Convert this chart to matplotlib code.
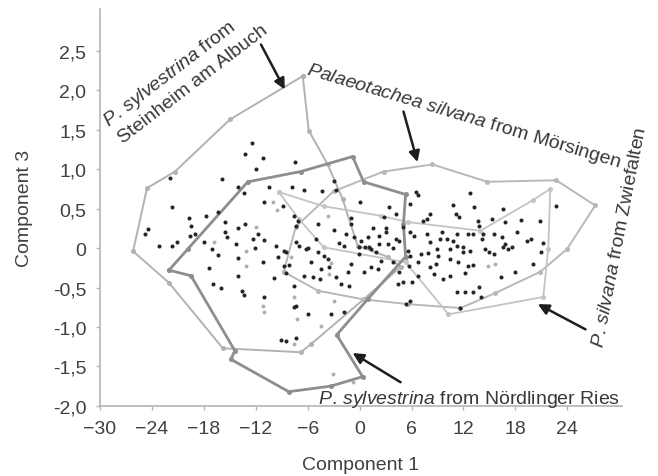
import matplotlib
matplotlib.use("Agg")
import matplotlib.pyplot as plt
import numpy as np

plt.rcParams['font.family'] = ['Liberation Sans', 'DejaVu Sans']
plt.rcParams['mathtext.fontset'] = 'custom'
plt.rcParams['mathtext.rm'] = 'Liberation Sans'
plt.rcParams['mathtext.it'] = 'Liberation Sans:italic'

# outlines of the four samples (component 1, component 3)
steinheim_x = [-6.57, -5.88, -3.69, -1.96, -0.23, 3.23, 4.73, 0.46, -5.65, -6.80,
               -15.80, -22.03, -26.18, -24.57, -21.34, -14.99]
steinheim_y = [2.18, 1.49, 1.06, 0.62, 0.03, -0.11, -0.24, -0.65, -1.22, -1.32,
               -1.27, -0.44, -0.04, 0.76, 0.97, 1.63]

noerdlingen_x = [-22.03, -19.84, -12.92, -6.80, -0.81, 0.46, 5.31, 5.07, 5.31, 0.92,
                 -2.65, 0.35, -3.34, -8.19, -14.88, -14.42, -19.49]
noerdlingen_y = [-0.28, -0.01, 0.84, 0.97, 1.16, 0.84, 0.68, 0.30, -0.11, -0.65,
                 -1.10, -1.63, -1.75, -1.82, -1.41, -1.30, -0.35]

moersingen_x = [-8.77, -7.38, -3.00, 2.77, 8.42, 14.76, 22.72, 27.22, 23.99, 20.88,
                15.69, 11.65, 5.54, 0.46, -4.84]
moersingen_y = [-0.30, 0.27, 0.72, 0.97, 1.06, 0.84, 0.86, 0.54, -0.01, -0.30,
                -0.57, -0.76, -0.71, -0.65, -0.54]

zwiefalten_x = [-9.34, -4.15, 2.42, 5.54, 13.96, 20.07, 22.03, 21.80, 21.22, 10.27,
                5.31, -4.15, -7.04]
zwiefalten_y = [0.71, 0.53, 0.41, 0.33, 0.22, 0.61, 0.75, -0.01, -0.62, -0.84,
                -0.18, 0.01, 0.37]

# individual shells
dots_x = [-12.46, -13.26, -11.19, -7.50, -12.0, -21.9, -15.9, -14.1, -10.5, -7.84,
          -13.4, -11.0, -8.88, -21.7, -16.4, -17.8, -19.7, -7.61, -7.15, -19.5,
          -15.6, -14.0, -13.3, -24.5, -24.8, -19.6, -19.0, -15.5, -15.3, -11.8,
          -12.3, -11.0, -7.38, -9.69, -21.1, -21.7, -23.2, -18.0, -17.1, -14.3,
          -12.1, -8.77, -16.4, -14.1, -11.2, -9.46, -8.77, -8.19, -8.54, -17.4,
          -14.1, -9.92, -17.0, -16.0, -13.6, -13.4, -11.0, -7.61, -7.38, -9.11,
          -8.54, -8.54, -7.04, -7.61, -6.0, -6.0, -5.65, -4.84, -5.42, -4.61,
          -3.58, -3.0, -6.46, -4.38, -2.77, 0.0, 3.34, 6.57, 6.80, 5.88,
          8.19, 7.84, 7.27, 10.8, 11.1, 2.77, 4.15, -1.04, -1.04, -4.84,
          1.50, 3.0, 3.0, -3.0, -1.61, -0.69, 0.12, 0.92, 2.19, 4.15,
          4.96, 5.88, 6.23, 7.84, 9.57, 10.15, 10.84, 11.3, -7.38, -6.23,
          -5.07, -4.15, -1.85, -0.12, -0.12, 1.27, 3.23, 5.54, 5.88, 8.19,
          9.0, 10.5, 12.8, 13.26, 16.6, 22.7, 11.5, 15.3, 16.8, 18.7,
          20.9, 13.7, 13.8, 11.3, 12.5, 13.1, 14.3, 15.5, 14.2, 16.5,
          18.2, 19.4, 21.2, 16.8, 16.6, 11.9, 12.8, 14.5, 14.9, 15.5,
          17.2, 21.0, 1.04, 2.19, 4.5, 7.04, 7.96, 9.11, 12.0, -3.69,
          -1.04, 1.27, 2.42, 3.81, 5.65, 6.80, 8.77, 10.4, 11.4, 12.5,
          13.1, 16.3, 18.0, 20.0, -2.77, -1.38, 0.46, 2.08, 5.07, 6.69,
          8.54, 9.69, 11.3, 12.2, 13.1, 13.8, 14.0, 5.88, 5.31, 11.65,
          12.2, -2.42, -6.46, -2.19, -1.27, -4.5, 4.5, 4.38, 6.11, 8.19,
          10.5, -7.38, -3.34, -1.85, 0.6, 1.9, 9.3, 17.6, 19.8, 3.9]
dots_y = [1.33, 1.19, 1.14, 1.09, 1.00, 0.89, 0.87, 0.78, 0.78, 0.78,
          0.70, 0.58, 0.53, 0.52, 0.46, 0.41, 0.38, 0.41, 0.34, 0.28,
          0.33, 0.25, 0.30, 0.24, 0.18, 0.15, 0.18, 0.20, 0.14, 0.18,
          0.11, 0.10, 0.28, 0.03, 0.08, 0.03, 0.03, 0.08, -0.01, 0.05,
          0.00, -0.04, -0.09, -0.13, -0.18, -0.11, -0.23, -0.22, -0.32, -0.25,
          -0.35, -0.38, -0.46, -0.51, -0.54, -0.59, -0.62, -0.75, -1.14, -1.16,
          -1.18, -0.05, 0.03, -0.48, -0.84, 0.00, -0.18, -0.05, -0.37, -0.39,
          -0.24, 0.85, 0.73, 0.72, 0.73, 0.59, 0.52, 0.71, 0.67, 0.56,
          0.43, 0.37, 0.34, 0.54, 0.43, 0.39, 0.43, 0.38, 0.30, 0.30,
          0.25, 0.25, 0.20, 0.23, 0.18, 0.14, 0.09, 0.14, 0.15, 0.11,
          0.27, 0.20, 0.15, 0.18, 0.20, 0.11, 0.09, 0.03, 0.08, -0.01,
          0.11, -0.10, 0.03, 0.01, -0.08, -0.01, 0.05, -0.04, -0.10, 0.08,
          -0.01, -0.01, 0.70, 0.52, 0.49, 0.53, 0.39, 0.37, 0.33, 0.35,
          0.34, 0.34, 0.28, 0.18, 0.18, 0.18, 0.18, 0.18, 0.11, 0.14,
          0.20, 0.09, 0.06, 0.05, 0.01, 0.01, -0.04, -0.01, -0.05, -0.08,
          -0.01, -0.05, 0.01, 0.05, 0.09, -0.08, -0.06, -0.10, -0.05, -0.14,
          -0.20, -0.24, -0.16, -0.18, -0.23, -0.18, -0.20, -0.14, -0.18, -0.23,
          -0.22, -0.37, -0.30, -0.20, -0.37, -0.30, -0.30, -0.27, -0.43, -0.35,
          -0.33, -0.39, -0.56, -0.56, -0.56, -0.49, -0.62, -0.67, -0.71, -0.76,
          -0.32, 0.06, -0.35, -0.46, -0.48, -0.27, -0.30, -0.46, -0.43, -0.24,
          -0.35, -0.73, -0.84, -0.81, 0.02, -0.05, 0.12, 0.02, 0.12, 0.00]

grey_x = [-10.0, -9.57, -12.0, -16.8, -13.1, -13.1, -11.2, -11.1, -7.61, -7.27,
          -7.61, -3.69, -3.34, -3.58, -3.0, -4.5, -3.11, 14.8, 15.7, -7.96, -0.8]
grey_y = [0.58, 0.48, 0.27, 0.08, -0.04, -0.23, -0.73, -0.81, -0.62, -0.90,
          -1.22, 0.41, -0.19, -0.33, -0.67, -0.99, -1.59, -0.23, -0.20, -0.11, -1.70]

xticks = [-30, -24, -18, -12, -6, 0, 6, 12, 18, 24]
yticks = [-2.0, -1.5, -1.0, -0.5, 0.0, 0.5, 1.0, 1.5, 2.0, 2.5]
ytick_labels = ['-2,0', '-1,5', '-1,0', '-0,5', '0', '0,5', '1,0', '1,5', '2,0', '2,5']

fig = plt.figure(figsize=(6.58, 4.77), dpi=100)
ax = fig.add_axes([0.152, 0.147, 0.793, 0.832])

def outline(xs, ys, col, lw):
    xs = list(xs) + [xs[0]]
    ys = list(ys) + [ys[0]]
    ax.plot(xs, ys, color=col, lw=lw, marker='o', ms=2.6, mfc=col, mec=col,
            solid_joinstyle='round', zorder=2)

outline(steinheim_x, steinheim_y, '#b2b2b2', 1.4)
outline(moersingen_x, moersingen_y, '#b8b8b8', 1.4)
outline(zwiefalten_x, zwiefalten_y, '#c4c4c4', 1.3)
outline(noerdlingen_x, noerdlingen_y, '#8e8e8e', 2.0)

ax.scatter(grey_x, grey_y, s=8, color='#b0b0b0', linewidths=0, zorder=3)
ax.scatter(dots_x, dots_y, s=8.5, color='#262626', linewidths=0, zorder=4)

ax.set_xlim(-30, 30.3)
ax.set_ylim(-2.0, 3.03)
ax.set_xticks(xticks)
ax.set_yticks(yticks)
ax.set_yticklabels(ytick_labels)
for s in ['top', 'right']:
    ax.spines[s].set_visible(False)
for s in ['left', 'bottom']:
    ax.spines[s].set_color('#b4b4b4')
    ax.spines[s].set_linewidth(1.2)
ax.tick_params(length=3, width=1, color='#b4b4b4', labelcolor='#404040',
               labelsize=14, pad=7)
ax.set_xlabel('Component 1', fontsize=14, color='#404040', labelpad=14)
ax.set_ylabel('Component 3', fontsize=14, color='#404040', labelpad=14)

tcol = '#383838'
ax.text(-21.6, 2.17, r'$\mathit{P.\,sylvestrina}$ from', fontsize=14, color=tcol,
        rotation=37.5, rotation_mode='anchor', ha='center', va='baseline')
ax.text(-18.9, 2.04, 'Steinheim am Albuch', fontsize=14, color=tcol,
        rotation=37.5, rotation_mode='anchor', ha='center', va='baseline')
ax.text(11.9, 1.62, r'$\mathit{Palaeotachea\ silvana}$ from Mörsingen', fontsize=14,
        color=tcol, rotation=-16.6, rotation_mode='anchor', ha='center', va='baseline')
ax.text(30.1, 0.14, r'$\mathit{P.\,silvana}$ from Zwiefalten', fontsize=14,
        color=tcol, rotation=79, rotation_mode='anchor', ha='center', va='center',
        clip_on=False)
ax.text(-4.8, -1.96, r'$\mathit{P.\,sylvestrina}$ from Nördlinger Ries', fontsize=14,
        color=tcol, ha='left', va='baseline', clip_on=False)

arrow = dict(arrowstyle='-|>', lw=1.8, color='#1e1e1e', mutation_scale=16,
             shrinkA=0, shrinkB=0)
ax.annotate('', xy=(-8.65, 2.01), xytext=(-11.4, 2.58), arrowprops=arrow)
ax.annotate('', xy=(6.69, 1.09), xytext=(5.07, 1.73), arrowprops=arrow)
ax.annotate('', xy=(20.6, -0.71), xytext=(26.1, -1.03), arrowprops=arrow)
ax.annotate('', xy=(-0.81, -1.33), xytext=(4.73, -1.70), arrowprops=arrow)

fig.savefig('out.png', dpi=100)
